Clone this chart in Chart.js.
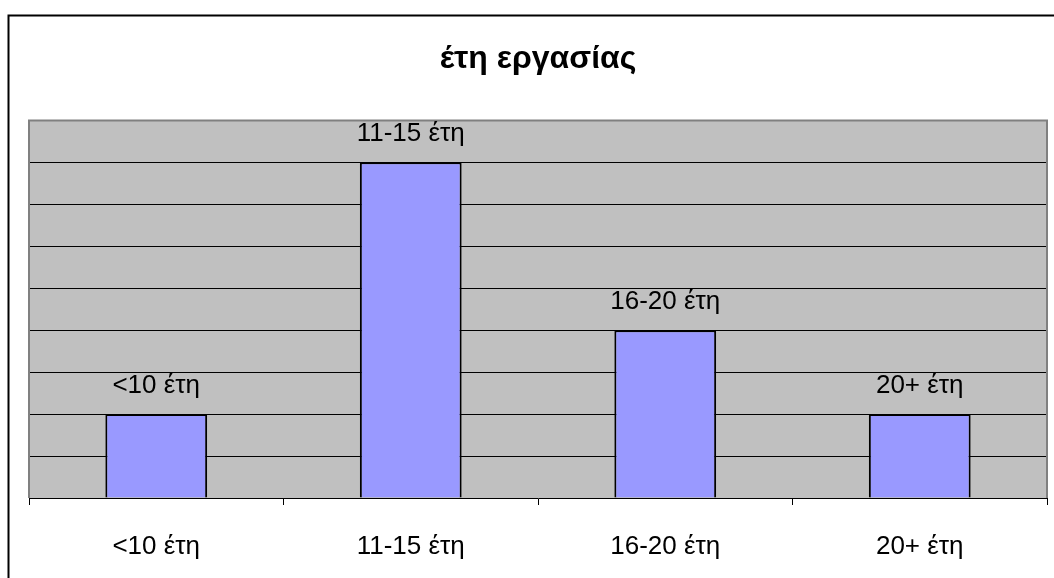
<!DOCTYPE html>
<html>
<head>
<meta charset="utf-8">
<script src="https://cdn.jsdelivr.net/npm/chart.js@4/dist/chart.umd.min.js"></script>
<style>
html,body{margin:0;padding:0;background:#fff;}
#wrap{width:1054px;height:578px;position:relative;}
</style>
</head>
<body>
<div id="wrap"><canvas id="c" width="1054" height="578"></canvas></div>
<script>
const categories = ['<10 έτη', '11-15 έτη', '16-20 έτη', '20+ έτη'];
const values = [2, 8, 4, 2];
const yMax = 9;
const titleText = 'έτη εργασίας';

const FONT = "'Liberation Sans', Arial, sans-serif";

const framePlugin = {
  id: 'frame',
  beforeDraw(chart) {
    const ctx = chart.ctx;
    const a = chart.chartArea;
    ctx.save();
    ctx.fillStyle = '#ffffff';
    ctx.fillRect(0, 0, chart.width, chart.height);
    ctx.strokeStyle = '#000';
    ctx.lineWidth = 2;
    ctx.beginPath();
    ctx.moveTo(8.5, chart.height + 5);
    ctx.lineTo(8.5, 15.5);
    ctx.lineTo(chart.width + 5, 15.5);
    ctx.stroke();
    ctx.fillStyle = '#C0C0C0';
    ctx.fillRect(a.left, a.top, a.right - a.left, a.bottom - a.top);
    ctx.restore();
  },
  afterDatasetsDraw(chart) {
    const ctx = chart.ctx;
    const a = chart.chartArea;
    ctx.save();
    ctx.strokeStyle = '#808080';
    ctx.lineWidth = 2;
    ctx.beginPath();
    ctx.moveTo(a.left, a.bottom);
    ctx.lineTo(a.left, a.top);
    ctx.lineTo(a.right, a.top);
    ctx.lineTo(a.right, a.bottom);
    ctx.stroke();
    const meta = chart.getDatasetMeta(0);
    ctx.fillStyle = '#000';
    ctx.font = '26px ' + FONT;
    ctx.textAlign = 'center';
    ctx.textBaseline = 'alphabetic';
    meta.data.forEach((bar, i) => {
      ctx.fillText(categories[i], bar.x, bar.y - 21);
    });
    ctx.restore();
  }
};

new Chart(document.getElementById('c'), {
  type: 'bar',
  data: {
    labels: categories,
    datasets: [{
      data: values,
      backgroundColor: '#9999FF',
      borderColor: '#000000',
      borderWidth: 2,
      barPercentage: 0.4,
      categoryPercentage: 1.0
    }]
  },
  options: {
    responsive: false,
    animation: false,
    events: [],
    layout: { padding: { left: 29, right: 7, top: 0, bottom: 0 } },
    plugins: {
      legend: { display: false },
      tooltip: { enabled: false },
      title: {
        display: true,
        text: titleText,
        color: '#000',
        font: { family: FONT, size: 32, weight: 'bold', lineHeight: 1.2 },
        padding: { top: 40, bottom: 42 }
      }
    },
    scales: {
      x: {
        offset: true,
        grid: {
          offset: true,
          drawOnChartArea: false,
          drawTicks: true,
          tickLength: 7,
          color: '#000',
          lineWidth: 1
        },
        border: { display: true, color: '#000', width: 1 },
        ticks: {
          color: '#000',
          font: { family: FONT, size: 26 },
          padding: 26,
          maxRotation: 0
        },
        afterFit(scale) { scale.height = 80; }
      },
      y: {
        min: 0,
        max: yMax,
        ticks: { display: false, stepSize: 1 },
        grid: {
          drawTicks: false,
          color: (c) => (c.tick && (c.tick.value === 0 || c.tick.value === yMax)) ? 'rgba(0,0,0,0)' : '#000',
          lineWidth: 1
        },
        border: { display: false },
        afterFit(scale) { scale.width = 0; }
      }
    }
  },
  plugins: [framePlugin]
});
</script>
</body>
</html>
